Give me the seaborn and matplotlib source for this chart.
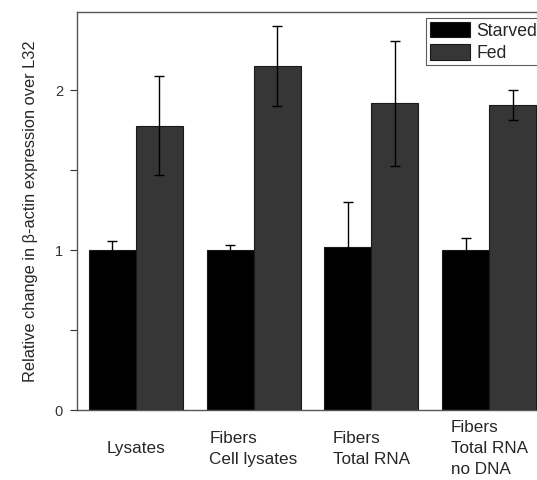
import pandas as pd
import seaborn as sns
import matplotlib.pyplot as plt

# values
groups = ["Lysates", "Fibers\nCell lysates", "Fibers\nTotal RNA", "Fibers\nTotal RNA\nno DNA"]
starved = [1.00, 1.00, 1.02, 1.00]
fed = [1.78, 2.15, 1.92, 1.91]
starved_err = [0.055, 0.035, 0.28, 0.075]
fed_err = [0.31, 0.25, 0.39, 0.095]

df = pd.DataFrame({
    "group": groups * 2,
    "condition": ["Starved"] * 4 + ["Fed"] * 4,
    "value": starved + fed,
})

sns.set_style("ticks")
plt.rcParams['font.family'] = ['Liberation Sans', 'DejaVu Sans']

fig = plt.figure(figsize=(5.37, 4.8), dpi=100)
ax = fig.add_axes([0.1434, 0.1458, 0.877, 0.829])

sns.barplot(data=df, x="group", y="value", hue="condition",
            palette={"Starved": "#000000", "Fed": "#363636"},
            errorbar=None, edgecolor="#1a1a1a", linewidth=0.8, ax=ax)

# error bars at bar centres
errs = starved_err + fed_err
vals = starved + fed
for bar, v, e in zip(ax.patches[:8], vals, errs):
    cx = bar.get_x() + bar.get_width() / 2
    ax.errorbar(cx, v, yerr=e, fmt="none", ecolor="black", elinewidth=1, capsize=3.5, capthick=1)

ax.set_ylim(0, 2.49)
ax.set_xlim(-0.5, 3.5)
ax.set_yticks([0, 0.5, 1, 1.5, 2])
ax.set_yticklabels(["0", "", "1", "", "2"])
ax.tick_params(axis="y", direction="out", length=5, width=0.8, labelsize=10.5, colors="#333333", pad=5)
ax.tick_params(axis="x", length=0, labelsize=12.3, pad=28)
for lab in ax.get_xticklabels():
    lab.set_va("center")
    lab.set_multialignment("left")
    lab.set_linespacing(1.5)

ax.set_xlabel("")
ax.set_ylabel("Relative change in β-actin expression over L32", fontsize=11.8, labelpad=12)

for s in ["left", "bottom", "top", "right"]:
    ax.spines[s].set_color("#555555")
    ax.spines[s].set_linewidth(1)

leg = ax.legend(loc="upper right", bbox_to_anchor=(0.985, 0.985), fontsize=12.7, frameon=True,
                fancybox=False, edgecolor="#333333", handlelength=2.3, handleheight=1.0,
                borderpad=0.2, labelspacing=0.25, handletextpad=0.35, borderaxespad=0)
leg.get_frame().set_linewidth(0.8)

fig.savefig("out.png", dpi=100)
